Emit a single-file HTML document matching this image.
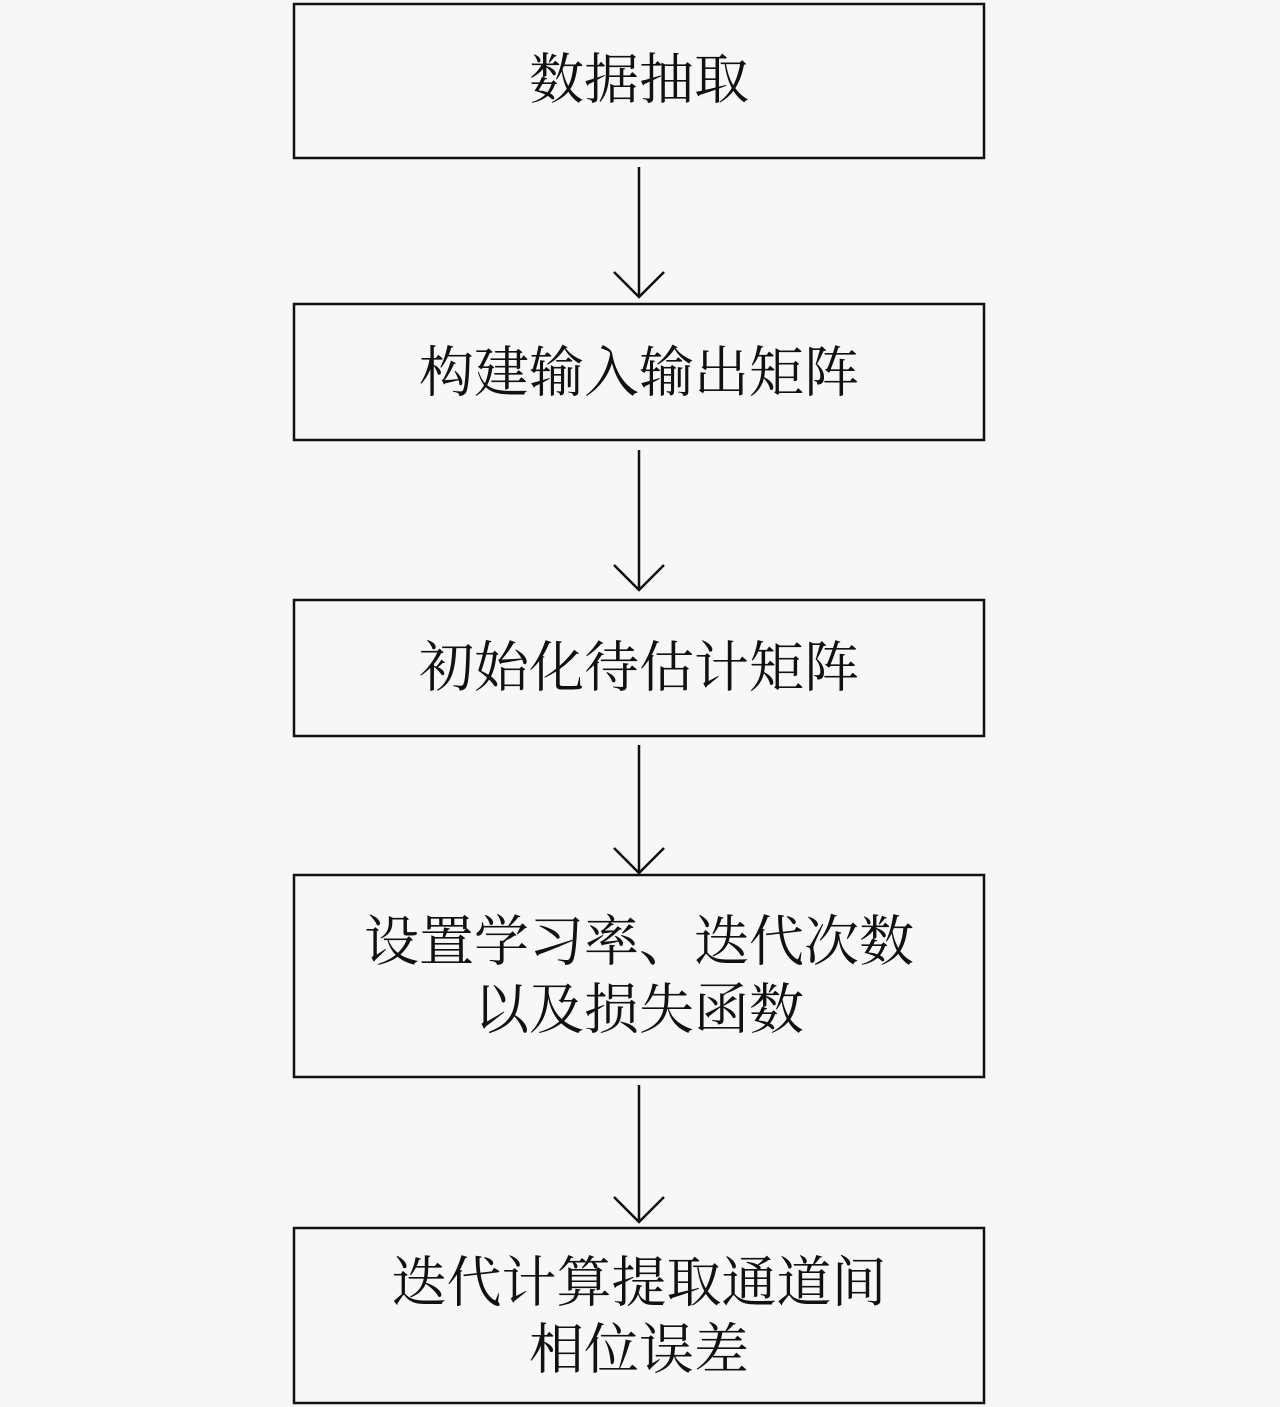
<!DOCTYPE html>
<html><head><meta charset="utf-8"><style>
html,body{margin:0;padding:0;background:#f7f7f7;}
svg{display:block}
text{font-family:"Liberation Serif","Noto Serif CJK SC",serif;font-size:55px;fill:#111;text-anchor:middle;dominant-baseline:central}
</style></head><body>
<svg width="1280" height="1407" viewBox="0 0 1280 1407">
<rect width="1280" height="1407" fill="#f7f7f7"/>
<g fill="none" stroke="#111" stroke-width="2.5">
<rect x="294" y="4" width="690" height="154"/>
<rect x="294" y="304" width="690" height="136"/>
<rect x="294" y="600" width="690" height="136"/>
<rect x="294" y="875" width="690" height="202"/>
<rect x="294" y="1228" width="690" height="175"/>
<path d="M639 167V297M614 272L639 297L664 272"/>
<path d="M639 450V590M614 565L639 590L664 565"/>
<path d="M639 745V873M614 848L639 873L664 848"/>
<path d="M639 1085V1222M614 1197L639 1222L664 1197"/>
</g>
<text x="639" y="80">数据抽取</text>
<text x="639" y="373">构建输入输出矩阵</text>
<text x="639" y="668">初始化待估计矩阵</text>
<text x="639" y="942">设置学习率、迭代次数</text>
<text x="639" y="1010">以及损失函数</text>
<text x="639" y="1283">迭代计算提取通道间</text>
<text x="639" y="1350">相位误差</text>
</svg>
</body></html>
